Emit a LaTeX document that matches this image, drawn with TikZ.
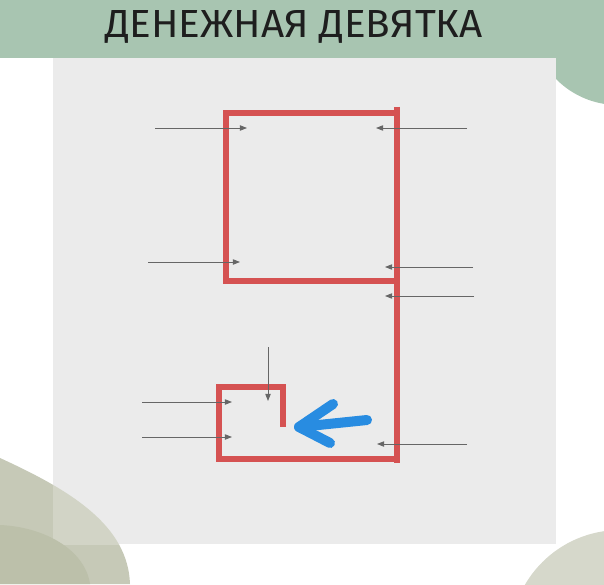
\documentclass[tikz,border=0pt]{standalone}
\usepackage{fontspec}
\setmainfont{Fira Sans}
\usetikzlibrary{arrows.meta}
\definecolor{sage}{RGB}{168,197,177}
\definecolor{panelgray}{RGB}{235,235,235}
\definecolor{blobout}{RGB}{198,201,183}
\definecolor{blobin}{RGB}{210,212,198}
\definecolor{blobdark}{RGB}{188,192,170}
\definecolor{blobright}{RGB}{214,216,203}
\definecolor{ninered}{RGB}{213,82,82}
\definecolor{markblue}{RGB}{40,140,225}
\definecolor{titleink}{RGB}{30,30,30}
\begin{document}
\begin{tikzpicture}[x=0.02cm, y=-0.02cm,
    pointer/.style={draw=black!60, line width=0.5pt, -{Triangle[length=4pt,width=3pt]}},
    redline/.style={draw=ninered, line width=3.4pt},
    blueline/.style={draw=markblue, line width=5.7pt, line cap=round, line join=round}]
    \useasboundingbox (0,0) rectangle (604,584);
    % background
    \fill[sage] (0,0) rectangle (604,58);
    \fill[sage] (618,18) circle (1.74cm);
    \fill[blobright] (620,640) circle (2.2cm);
    \fill[blobout] (0,458) .. controls (70,490) and (128,525) .. (130,584) -- (0,584) -- cycle;
    \fill[panelgray] (53,58) rectangle (556,544);
    \begin{scope}
        \clip (53,58) rectangle (556,544);
        \fill[blobin] (0,458) .. controls (70,490) and (128,525) .. (130,584) -- (0,584) -- cycle;
    \end{scope}
    \fill[blobdark] (0,525) .. controls (45,527) and (85,550) .. (90,584) -- (0,584) -- cycle;

    \node (title) [anchor=base, text=titleink, inner sep=0pt] at (294,38)
        {\resizebox{7.56cm}{0.54cm}{ДЕНЕЖНАЯ ДЕВЯТКА}};

    % the nine
    \coordinate (sqbl) at (226,281);
    \coordinate (sqtl) at (226,113);
    \coordinate (sqtr) at (397,113);
    \coordinate (sqbr) at (397,281);
    \coordinate (stemtop) at (397,107);
    \coordinate (stembot) at (397,463);
    \coordinate (hookbr) at (397,459);
    \coordinate (hookbl) at (219,459);
    \coordinate (hooktl) at (219,387);
    \coordinate (hooktr) at (283,387);
    \coordinate (hookend) at (283,427);
    \draw[redline] (sqbr) -- (sqbl) -- (sqtl) -- (sqtr);
    \draw[redline] (stemtop) -- (stembot);
    \draw[redline] (hookbr) -- (hookbl) -- (hooktl) -- (hooktr) -- (hookend);

    % blue mark
    \coordinate (bluetail) at (367,420);
    \coordinate (bluetip) at (299,427);
    \coordinate (blueup) at (333,404);
    \coordinate (bluedown) at (330,443);
    \draw[blueline] (bluetail) -- (bluetip);
    \draw[blueline] (blueup) -- (bluetip) -- (bluedown);

    % pointers
    \coordinate (p1s) at (155,128);
    \coordinate (p1e) at (247,128);
    \coordinate (p2s) at (467,128);
    \coordinate (p2e) at (376,128);
    \coordinate (p3s) at (148,262);
    \coordinate (p3e) at (240,262);
    \coordinate (p4s) at (473,267);
    \coordinate (p4e) at (385,267);
    \coordinate (p5s) at (474,296);
    \coordinate (p5e) at (385,296);
    \coordinate (p6s) at (268,347);
    \coordinate (p6e) at (268,401);
    \coordinate (p7s) at (142,402);
    \coordinate (p7e) at (232,402);
    \coordinate (p8s) at (142,437);
    \coordinate (p8e) at (232,437);
    \coordinate (p9s) at (467,444);
    \coordinate (p9e) at (377,444);
    \draw[pointer] (p1s) -- (p1e);
    \draw[pointer] (p2s) -- (p2e);
    \draw[pointer] (p3s) -- (p3e);
    \draw[pointer] (p4s) -- (p4e);
    \draw[pointer] (p5s) -- (p5e);
    \draw[pointer] (p6s) -- (p6e);
    \draw[pointer] (p7s) -- (p7e);
    \draw[pointer] (p8s) -- (p8e);
    \draw[pointer] (p9s) -- (p9e);
\end{tikzpicture}
\end{document}
